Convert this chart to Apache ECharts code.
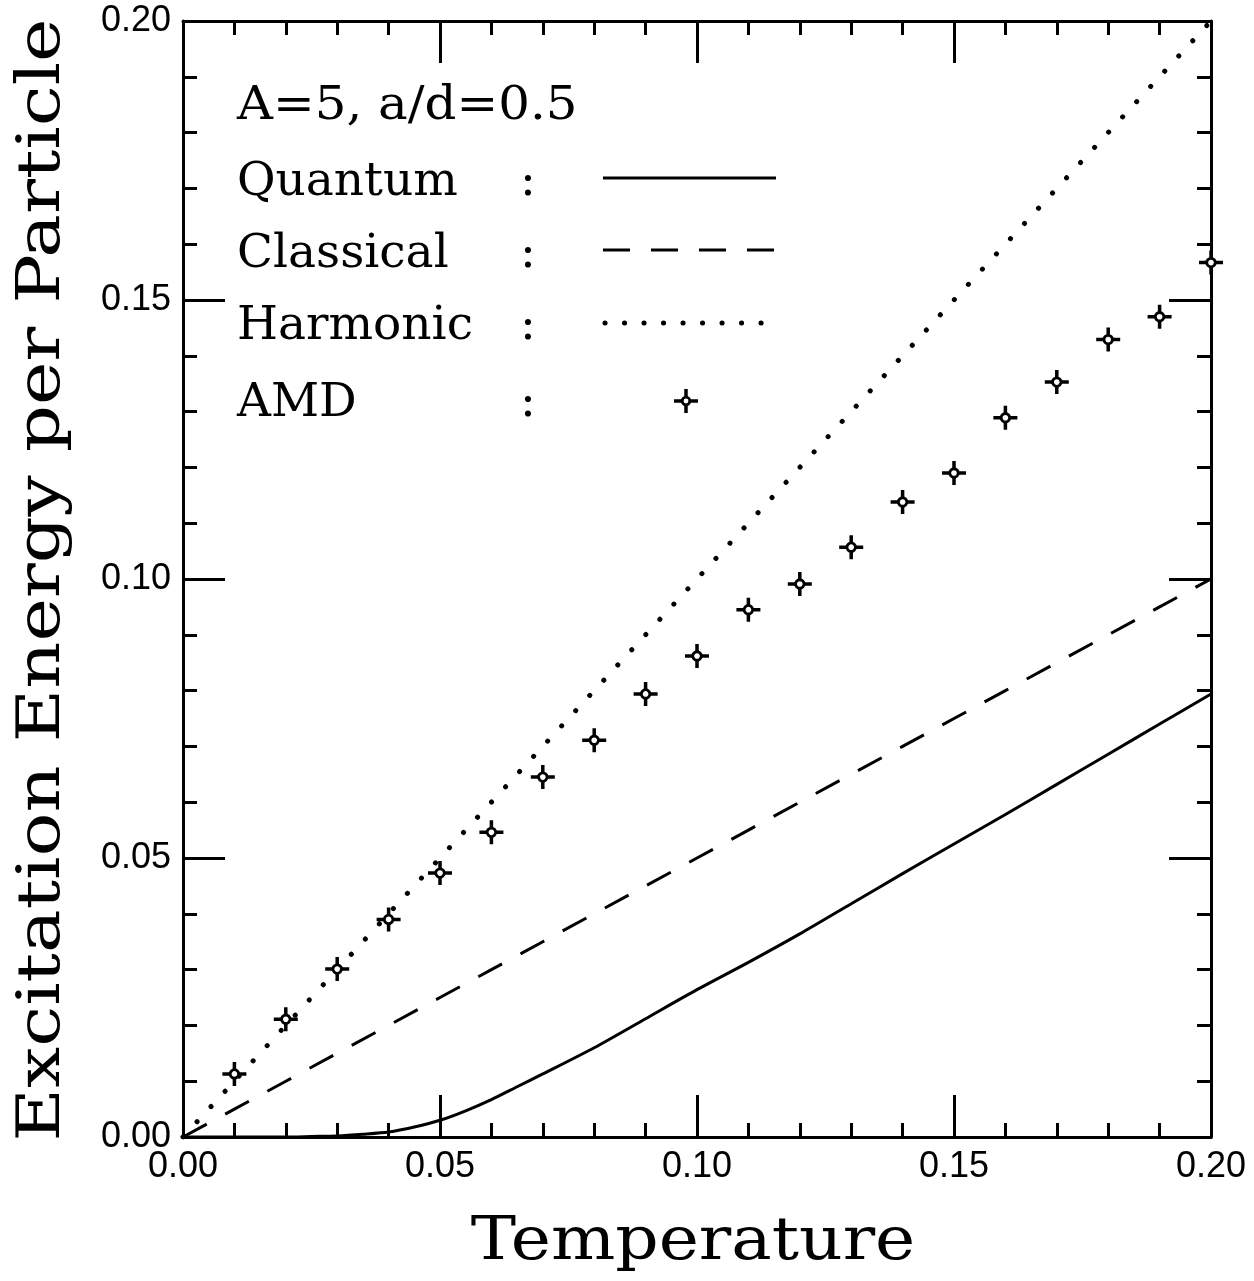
<!DOCTYPE html>
<html>
<head>
<meta charset="utf-8">
<title>Excitation Energy per Particle vs Temperature</title>
<script src="https://cdn.jsdelivr.net/npm/echarts@6/dist/echarts.min.js"></script>
<style>
  html, body { margin: 0; padding: 0; background: #ffffff; }
  #chart { width: 1254px; height: 1281px; }
</style>
</head>
<body>
<div id="chart"></div>
<script>
// Quantum result (finer sampling near the low-temperature onset)
const quantumT = [0.000, 0.010, 0.020, 0.025, 0.030, 0.035, 0.040, 0.045, 0.050, 0.055, 0.060, 0.065,
                  0.070, 0.080, 0.090, 0.100, 0.110, 0.120, 0.130, 0.140, 0.150, 0.160, 0.170,
                  0.180, 0.190, 0.200];
const quantumE = [0.0000, 0.0000, 0.0000, 0.0001, 0.0002, 0.0005, 0.0009, 0.0018, 0.0030, 0.0047, 0.0067, 0.0090,
                  0.0113, 0.0160, 0.0212, 0.0264, 0.0313, 0.0364, 0.0418, 0.0472, 0.0525, 0.0578, 0.0632,
                  0.0686, 0.0740, 0.0794];

// Temperature grid for the classical and harmonic curves
const temperature = [0.00, 0.01, 0.02, 0.03, 0.04, 0.05, 0.06, 0.07, 0.08, 0.09, 0.10,
                     0.11, 0.12, 0.13, 0.14, 0.15, 0.16, 0.17, 0.18, 0.19, 0.20];

// Classical result
const classical = [0.000, 0.005, 0.010, 0.015, 0.020, 0.025, 0.030, 0.035, 0.040, 0.045, 0.050,
                   0.055, 0.060, 0.065, 0.070, 0.075, 0.080, 0.085, 0.090, 0.095, 0.100];

// Harmonic result
const harmonic = [0.00, 0.01, 0.02, 0.03, 0.04, 0.05, 0.06, 0.07, 0.08, 0.09, 0.10,
                  0.11, 0.12, 0.13, 0.14, 0.15, 0.16, 0.17, 0.18, 0.19, 0.20];

// AMD simulation points
const amdTemperature = [0.01, 0.02, 0.03, 0.04, 0.05, 0.06, 0.07, 0.08, 0.09, 0.10,
                        0.11, 0.12, 0.13, 0.14, 0.15, 0.16, 0.17, 0.18, 0.19, 0.20];
const amdEnergy = [0.0113, 0.0211, 0.0301, 0.0390, 0.0473, 0.0546, 0.0645, 0.0711, 0.0794, 0.0862,
                   0.0945, 0.0991, 0.1057, 0.1138, 0.1190, 0.1289, 0.1353, 0.1429, 0.1470, 0.1567];

// Axis tick labels
const tickLabels = ['0.00', '0.05', '0.10', '0.15', '0.20'];

const pairs = (xs, ys) => xs.map((x, i) => [x, ys[i]]);
const labelOf = v => tickLabels[Math.round(v / 0.05)];

const INK = '#000000';
const serif = '"DejaVu Serif", "Liberation Serif", serif';
const sans = '"Liberation Sans", Arial, sans-serif';

function axisBase(showLabel) {
  return {
    type: 'value', min: 0, max: 0.2, interval: 0.05,
    axisLine: { show: true, onZero: false, lineStyle: { color: INK, width: 3 } },
    axisTick: { show: true, inside: true, length: 42, lineStyle: { color: INK, width: 3 } },
    minorTick: { show: true, splitNumber: 5, length: 14, lineStyle: { color: INK, width: 3 } },
    splitLine: { show: false },
    minorSplitLine: { show: false },
    axisLabel: {
      show: showLabel, color: INK, fontFamily: sans, fontSize: 36, margin: 12,
      formatter: labelOf
    }
  };
}

const plusSymbol = 'path://M-1.75,-12h3.5v24h-3.5zM-12,-1.75h24v3.5h-24z';

const chart = echarts.init(document.getElementById('chart'), null, { renderer: 'canvas' });

// Legend block in the upper left of the plot
const legendRows = [
  { name: 'Quantum', y: 183 },
  { name: 'Classical', y: 255 },
  { name: 'Harmonic', y: 327 },
  { name: 'AMD', y: 404 }
];
const legendFont = '47px ' + serif;
const graphics = [
  { type: 'text', x: 237, y: 107, scaleX: 1.06, style: { text: 'A=5, a/d=0.5', font: legendFont, fill: INK, textVerticalAlign: 'middle' } }
];
legendRows.forEach(r => {
  graphics.push({ type: 'text', x: 237, y: r.y, style: { text: r.name, font: legendFont, fill: INK, textVerticalAlign: 'middle' } });
  graphics.push({ type: 'text', x: 520, y: r.y, style: { text: ':', font: legendFont, fill: INK, textVerticalAlign: 'middle' } });
});
graphics.push(
  { type: 'line', shape: { x1: 603, y1: 178, x2: 776, y2: 178 }, style: { stroke: INK, lineWidth: 3 } },
  { type: 'line', shape: { x1: 603, y1: 250, x2: 776, y2: 250 }, style: { stroke: INK, lineWidth: 3, lineDash: [27, 21] } },
  { type: 'line', shape: { x1: 605, y1: 323, x2: 772, y2: 323 }, style: { stroke: INK, lineWidth: 5, lineCap: 'round', lineDash: [0.1, 19.4] } },
  { type: 'rect', shape: { x: 684.25, y: 389, width: 3.5, height: 24 }, style: { fill: INK } },
  { type: 'rect', shape: { x: 674, y: 399.25, width: 24, height: 3.5 }, style: { fill: INK } },
  { type: 'circle', shape: { cx: 686, cy: 401, r: 3.8 }, style: { fill: '#fff', stroke: INK, lineWidth: 2.8 } }
);
// Axis titles
graphics.push(
  { type: 'text', x: 693, y: 1244, scaleX: 1.15, style: { text: 'Temperature', font: '59px ' + serif, fill: INK, textAlign: 'center', textVerticalAlign: 'middle' } },
  { type: 'text', x: 44, y: 580, rotation: Math.PI / 2, scaleX: 1.24, style: { text: 'Excitation Energy per Particle', font: '59px ' + serif, fill: INK, textAlign: 'center', textVerticalAlign: 'middle' } }
);

const option = {
  backgroundColor: '#ffffff',
  animation: false,
  grid: { left: 183, top: 21, right: 43, bottom: 144, containLabel: false },
  xAxis: [
    Object.assign(axisBase(true), { position: 'bottom' }),
    Object.assign(axisBase(false), { position: 'top' })
  ],
  yAxis: [
    Object.assign(axisBase(true), { position: 'left' }),
    Object.assign(axisBase(false), { position: 'right' })
  ],
  series: [
    {
      name: 'Quantum', type: 'line', data: pairs(quantumT, quantumE),
      showSymbol: false, smooth: 0.25,
      lineStyle: { color: INK, width: 3 }
    },
    {
      name: 'Classical', type: 'line', data: pairs(temperature, classical),
      showSymbol: false,
      lineStyle: { color: INK, width: 3, type: [27, 21] }
    },
    {
      name: 'Harmonic', type: 'line', data: pairs(temperature, harmonic),
      showSymbol: false,
      lineStyle: { color: INK, width: 5, type: [0.1, 20.6], cap: 'round' }
    },
    {
      name: 'AMD', type: 'scatter', data: pairs(amdTemperature, amdEnergy),
      symbol: plusSymbol, symbolSize: 24, clip: false,
      itemStyle: { color: INK, opacity: 1 }, z: 3
    },
    {
      name: 'AMD centre', type: 'scatter', data: pairs(amdTemperature, amdEnergy),
      symbol: 'circle', symbolSize: 8.5, clip: false,
      itemStyle: { color: '#ffffff', borderColor: INK, borderWidth: 2.8, opacity: 1 }, z: 4
    }
  ],
  graphic: graphics
};

chart.setOption(option);
</script>
</body>
</html>
